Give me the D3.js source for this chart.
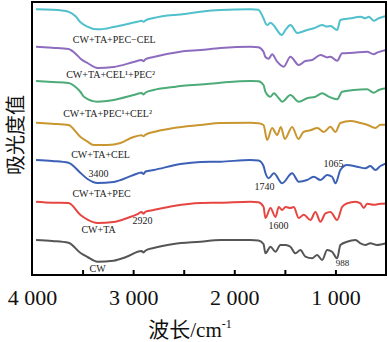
<!DOCTYPE html>
<html>
<head>
<meta charset="utf-8">
<script src="https://cdn.jsdelivr.net/npm/d3@7"></script>
<style>
  body { margin: 0; background: #fff; }
  svg { display: block; }
</style>
</head>
<body>
<svg id="ftir" width="388" height="342"></svg>
<script>
// wavenumber (cm-1) vs. relative intensity drop below each trace's baseline
var names = ["CW+TA+PEC\u2212CEL", "CW+TA+CEL\u00b9+PEC\u00b2", "CW+TA+PEC\u00b9+CEL\u00b2",
             "CW+TA+CEL", "CW+TA+PEC", "CW+TA", "CW"];
var colors = ["#4fc0cc", "#8d6cbf", "#4dab78", "#c9962f", "#3c60b6", "#e64641", "#555555"];
var offsets = [265.7, 228.3, 194, 152.3, 115, 73.3, 35];

var cyan = [[3960,0],[3800,0.5],[3640,2.4],[3569,7],[3520,13],[3451,17.4],[3390,19.7],[3322,20],
  [3194,17.7],[3055,14.7],[2957,12.4],[2917,11.5],[2897,12.5],[2877,11],[2798,8.7],[2601,5.7],
  [2532,5.2],[2334,2.4],[2136,0.7],[1840,0],[1761,0.5],[1741,3],[1711,9],[1692,13.7],[1672,15.7],
  [1642,13.4],[1613,15.7],[1530,25.7],[1490,20],[1445,15.7],[1376,23.7],[1280,20.7],[1215,19],
  [1131,15.7],[1082,17.3],[1049,16.7],[983,20.7],[951,10.7],[852,9],[753,7.4],[703,9],[671,7.4],
  [622,11.4],[572,9],[500,6.7]];
var purple = [[3960,0],[3800,1],[3640,2.3],[3569,7],[3520,12],[3451,16.3],[3352,21.3],[3194,20.3],
  [2996,15.3],[2917,13.3],[2897,14.5],[2877,12.5],[2798,10.3],[2532,5],[2334,3.3],[2136,1.3],
  [1840,0],[1761,0.5],[1711,5],[1692,10.3],[1660,12],[1626,7.6],[1576,15],[1511,20],[1445,10],
  [1363,18.3],[1297,14.3],[1230,13.3],[1148,8.3],[1082,10.7],[1049,10],[983,14],[934,6.6],
  [819,6],[687,5],[622,7.6],[589,6],[500,3.3]];
var green = [[3960,0],[3800,1],[3640,2],[3569,6],[3520,11],[3487,15.7],[3352,20.7],[3194,19],
  [2996,14],[2917,12],[2897,13.5],[2877,11.5],[2798,9],[2601,6],[2532,5],[2334,3.5],[2136,1.7],
  [1840,0],[1761,0.3],[1711,4],[1692,10.7],[1642,15.7],[1609,12.3],[1560,17.3],[1527,20.7],
  [1445,14],[1363,20.7],[1280,17.3],[1198,15.7],[1131,12.3],[1066,15.7],[983,18.3],[934,10.7],
  [819,9],[687,8.3],[622,11.7],[572,9],[500,7.3]];
var gold = [[3960,0],[3800,1],[3640,2.3],[3520,14.3],[3451,19],[3391,22.3],[3253,22.3],[3125,20.3],
  [2996,14.3],[2917,12.5],[2897,13.5],[2877,12],[2798,9.3],[2601,5.3],[2334,2.3],[2136,0.3],
  [1840,0],[1761,0.5],[1711,2.3],[1675,17.3],[1626,5.3],[1576,12.3],[1540,4.3],[1500,16.3],
  [1428,4.3],[1366,16.3],[1316,9.3],[1247,7.6],[1178,5.3],[1115,9.3],[1049,4],[1000,9.3],
  [951,0.3],[852,-1.7],[753,0.3],[687,2],[605,5.3],[555,2],[500,2]];
var blue = [[3960,0],[3800,1],[3640,2.7],[3520,13],[3451,19],[3352,23],[3194,22],[2996,15],
  [2917,12.5],[2897,14],[2877,11.5],[2798,10],[2532,4],[2334,2],[2136,1.7],[1840,0],[1761,0.5],
  [1711,6],[1692,13],[1660,18.3],[1609,13.3],[1527,23.3],[1428,13.3],[1363,21.7],[1280,20],
  [1215,16.7],[1148,20],[1082,15],[1033,16.7],[1000,23.3],[951,10],[885,5],[786,6.7],[704,8.3],
  [655,6],[605,10],[555,6],[500,3.3]];
var red = [[3960,0],[3800,1],[3640,1.3],[3520,13.3],[3451,18],[3352,21.3],[3194,20.3],[3058,16.3],
  [2957,12.5],[2917,10.3],[2897,12],[2877,10],[2798,8.3],[2601,4.3],[2334,1.3],[2136,1],[1840,0],
  [1761,0.5],[1711,5],[1692,16.3],[1642,6.3],[1593,15.3],[1560,5.3],[1527,8.3],[1494,5.3],
  [1445,6.3],[1412,5.3],[1363,16.3],[1313,13],[1247,18.3],[1198,10.3],[1148,20],[1099,11.7],
  [1049,10.3],[983,18.3],[934,5.3],[885,1.7],[802,0],[753,1.7],[720,6.3],[687,2],[622,3],
  [556,2],[500,1.7]];
var gray = [[3960,0],[3800,1],[3640,2.7],[3520,13],[3451,17],[3352,21.7],[3194,20.7],[3070,17],
  [2917,11],[2897,12.5],[2877,10.5],[2798,8],[2601,4],[2334,1.7],[2136,0],[1840,0],[1761,0.5],
  [1711,4],[1692,13.3],[1642,6.7],[1593,11.7],[1544,5],[1494,5],[1445,6.7],[1395,13.3],
  [1346,10],[1297,16.7],[1230,18.3],[1181,15],[1131,20],[1082,10],[1033,11.7],[983,18.3],
  [951,5],[885,1.7],[802,0],[753,3.3],[704,5],[655,3.3],[589,5],[500,3.3]];
var spectra = [cyan, purple, green, gold, blue, red, gray];

// label anchors: [wavenumber, value]
var nameSpots = [[3187,236],[3223,201],[3253,162],[3322,121],[3312,82],[3342,46],[3352,7]];
var peakTexts = ["3400", "2920", "1740", "1065", "1600", "988"];
var peakSpots = [[3342,102],[2907,55],[1701,89],[1020,112],[1563,50],[931,12]];

var tickMarks = [3500, 3000, 2500, 2000, 1500, 1000];
var tickLabels = [4000, 3000, 2000, 1000];

var svg = d3.select("svg#ftir"),
  margin = {top: 2, right: 2, bottom: 67, left: 32},
  width = +svg.attr("width") - margin.left - margin.right,
  height = +svg.attr("height") - margin.top - margin.bottom,
  g = svg.append("g").attr("transform", "translate(" + margin.left + "," + margin.top + ")");

var x = d3.scaleLinear().domain([4000, 500]).range([0, width]);
var y = d3.scaleLinear().domain([0, 273]).range([height, 0]);

var line = d3.line()
  .x(function(d){ return x(d[0]); })
  .y(function(d){ return y(d[1]); })
  .curve(d3.curveMonotoneX);

// traces
spectra.forEach(function(s, i){
  var pts = s.map(function(d){ return [d[0], offsets[i] - d[1]]; });
  g.append("path")
    .datum(pts)
    .attr("fill", "none")
    .attr("stroke", colors[i])
    .attr("stroke-width", 2)
    .attr("stroke-linejoin", "round")
    .attr("d", line);
});

// trace names
g.selectAll("text.name")
  .data(names)
  .enter().append("text")
  .attr("class", "name")
  .attr("x", function(d, i){ return x(nameSpots[i][0]); })
  .attr("y", function(d, i){ return y(nameSpots[i][1]); })
  .attr("dy", "0.35em")
  .attr("text-anchor", "middle")
  .style("font-family", "'Liberation Serif', 'Times New Roman', serif")
  .style("font-size", "10px")
  .attr("fill", "#222")
  .text(function(d){ return d; });

// peak positions
g.selectAll("text.peak")
  .data(peakTexts)
  .enter().append("text")
  .attr("class", "peak")
  .attr("x", function(d, i){ return x(peakSpots[i][0]); })
  .attr("y", function(d, i){ return y(peakSpots[i][1]); })
  .attr("dy", "0.35em")
  .attr("text-anchor", "middle")
  .style("font-family", "'Liberation Serif', 'Times New Roman', serif")
  .style("font-size", function(d){ return d.length < 4 ? "9px" : "10px"; })
  .attr("fill", "#222")
  .text(function(d){ return d; });

// frame
g.append("rect")
  .attr("x", 0).attr("y", 0)
  .attr("width", width).attr("height", height)
  .attr("fill", "none")
  .attr("stroke", "#000")
  .attr("stroke-width", 2);

// inward ticks
var tickAxis = d3.axisBottom(x).tickValues(tickMarks).tickSizeInner(-5).tickSizeOuter(0).tickFormat("");
g.append("g")
  .attr("transform", "translate(0," + height + ")")
  .call(tickAxis)
  .call(function(a){
    a.select(".domain").remove();
    a.selectAll(".tick line").attr("stroke", "#000").attr("stroke-width", 2);
  });

// tick labels, "4 000" style
var fmt = function(d){ return d3.format(",")(d).replace(",", " "); };
var labelAxis = d3.axisBottom(x).tickValues(tickLabels).tickSize(0).tickPadding(14).tickFormat(fmt);
g.append("g")
  .attr("transform", "translate(0," + height + ")")
  .call(labelAxis)
  .call(function(a){
    a.select(".domain").remove();
    a.selectAll(".tick text")
      .style("font-family", "'Liberation Serif', 'Times New Roman', serif")
      .style("font-size", "22px")
      .attr("fill", "#111");
  });

// axis titles
var xt = svg.append("text")
  .attr("x", 190).attr("y", 337)
  .attr("text-anchor", "middle")
  .attr("fill", "#111")
  .style("font-size", "21px");
xt.append("tspan").style("font-family", "'Noto Sans CJK SC', sans-serif").text("波长");
xt.append("tspan").style("font-family", "'Liberation Serif', serif").text("/cm");
xt.append("tspan").style("font-family", "'Liberation Serif', serif")
  .style("font-size", "12px").attr("dy", -9).text("-1");

svg.append("text")
  .attr("transform", "translate(23,135) rotate(-90)")
  .attr("text-anchor", "middle")
  .attr("fill", "#111")
  .style("font-family", "'Noto Sans CJK SC', sans-serif")
  .style("font-size", "20px")
  .text("吸光度值");
</script>
</body>
</html>
